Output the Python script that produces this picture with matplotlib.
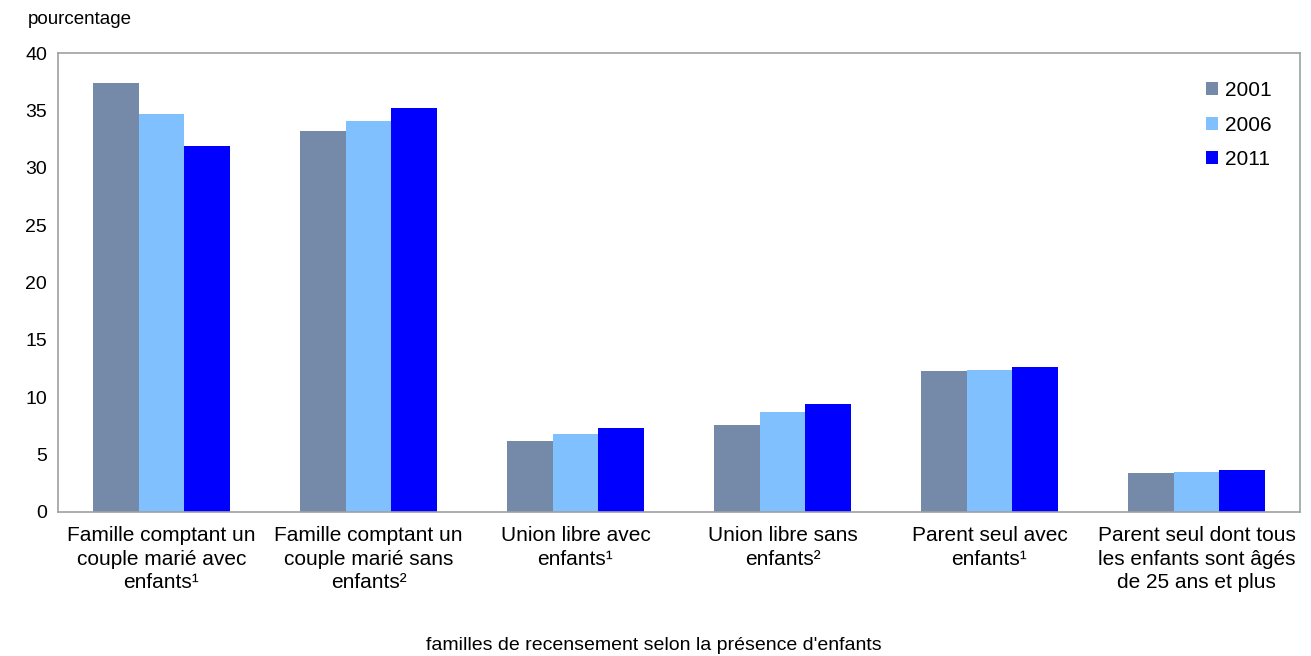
import matplotlib.pyplot as plt
import numpy as np

plt.rcParams['font.family'] = ['Liberation Sans', 'DejaVu Sans']

categories = [
    "Famille comptant un\ncouple marié avec\nenfants¹",
    "Famille comptant un\ncouple marié sans\nenfants²",
    "Union libre avec\nenfants¹",
    "Union libre sans\nenfants²",
    "Parent seul avec\nenfants¹",
    "Parent seul dont tous\nles enfants sont âgés\nde 25 ans et plus",
]
years = ["2001", "2006", "2011"]
v2001 = [37.4, 33.2, 6.2, 7.6, 12.3, 3.4]
v2006 = [34.7, 34.1, 6.8, 8.7, 12.4, 3.5]
v2011 = [31.9, 35.2, 7.3, 9.4, 12.6, 3.7]
colors = ["#7589A8", "#80C0FF", "#0000FF"]

fig = plt.figure(figsize=(13.11, 6.56), dpi=100)
ax = fig.add_axes([58 / 1311, 1 - 512 / 656, 1242 / 1311, 459 / 656])

x = np.arange(len(categories))
w = 0.222
for i, (vals, yr) in enumerate(zip([v2001, v2006, v2011], years)):
    ax.bar(x + (i - 1) * w, vals, width=w, color=colors[i], label=yr)

ax.set_xlim(-0.5, len(categories) - 0.5)
ax.set_ylim(0, 40)
ax.set_yticks(range(0, 41, 5))
ax.set_xticks(x)
ax.set_xticklabels(categories, fontsize=15, linespacing=1.32)
ax.tick_params(axis='y', length=0, labelsize=14, pad=8)
ax.tick_params(axis='x', length=0, pad=10)
for s in ax.spines.values():
    s.set_color('#A0A0A0')
    s.set_linewidth(1.2)

ax.text(-0.024, 1.055, "pourcentage", transform=ax.transAxes, fontsize=13.5, ha='left', va='bottom')
fig.text(654 / 1311, 1 - 645 / 656, "familles de recensement selon la présence d'enfants",
         fontsize=14, ha='center', va='center')

leg = ax.legend(loc='upper right', bbox_to_anchor=(0.992, 0.98), frameon=False, fontsize=15,
                handlelength=0.6, handleheight=0.6, handletextpad=0.3, labelspacing=0.75)

fig.savefig("out.png", dpi=100)
